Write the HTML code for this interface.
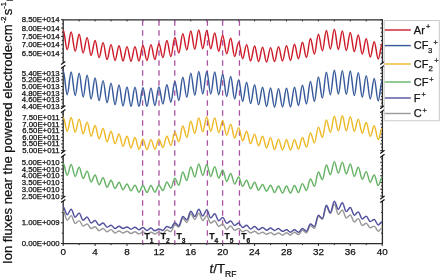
<!DOCTYPE html>
<html><head><meta charset="utf-8"><style>
html,body{margin:0;padding:0;background:#fff;width:440px;height:277px;overflow:hidden}
svg{display:block;will-change:transform}
text{font-family:"Liberation Sans",sans-serif;fill:#111;stroke:#111;stroke-width:0.25px}
.ax{stroke:#2b2b2b;stroke-width:1.3}
.tk{stroke:#2b2b2b;stroke-width:1}
.br{stroke:#111;stroke-width:1.2}
.yl{font-size:7.8px;text-anchor:end}
.xl{font-size:9.9px;text-anchor:middle}
.tl{font-size:8.6px;font-weight:bold}
.lg{font-size:11px}
.xt{font-size:13.2px}
.yt{font-size:13.1px}
.cv{fill:none;stroke-width:1.45;stroke-linejoin:round}
.dash{stroke:#a8539f;stroke-width:1.3;stroke-dasharray:5.4 4.6}
</style></head><body>
<svg width="440" height="277" viewBox="0 0 440 277">
<line x1="63.2" y1="19.8" x2="63.2" y2="63.0" class="ax"/>
<line x1="382.4" y1="19.8" x2="382.4" y2="63.0" class="ax"/>
<line x1="61.0" y1="19.7" x2="63.2" y2="19.7" class="tk"/>
<line x1="380.2" y1="19.7" x2="382.4" y2="19.7" class="tk"/>
<text x="59.6" y="22.20" class="yl">8.50E+014</text>
<line x1="61.0" y1="28.05" x2="63.2" y2="28.05" class="tk"/>
<line x1="380.2" y1="28.05" x2="382.4" y2="28.05" class="tk"/>
<text x="59.6" y="30.55" class="yl">8.00E+014</text>
<line x1="61.0" y1="36.4" x2="63.2" y2="36.4" class="tk"/>
<line x1="380.2" y1="36.4" x2="382.4" y2="36.4" class="tk"/>
<text x="59.6" y="38.90" class="yl">7.50E+014</text>
<line x1="61.0" y1="44.75" x2="63.2" y2="44.75" class="tk"/>
<line x1="380.2" y1="44.75" x2="382.4" y2="44.75" class="tk"/>
<text x="59.6" y="47.25" class="yl">7.00E+014</text>
<line x1="61.0" y1="53.1" x2="63.2" y2="53.1" class="tk"/>
<line x1="380.2" y1="53.1" x2="382.4" y2="53.1" class="tk"/>
<text x="59.6" y="55.60" class="yl">6.50E+014</text>
<line x1="61.800000000000004" y1="23.88" x2="63.2" y2="23.88" class="tk"/>
<line x1="381.0" y1="23.88" x2="382.4" y2="23.88" class="tk"/>
<line x1="61.800000000000004" y1="32.23" x2="63.2" y2="32.23" class="tk"/>
<line x1="381.0" y1="32.23" x2="382.4" y2="32.23" class="tk"/>
<line x1="61.800000000000004" y1="40.58" x2="63.2" y2="40.58" class="tk"/>
<line x1="381.0" y1="40.58" x2="382.4" y2="40.58" class="tk"/>
<line x1="61.800000000000004" y1="48.93" x2="63.2" y2="48.93" class="tk"/>
<line x1="381.0" y1="48.93" x2="382.4" y2="48.93" class="tk"/>
<line x1="61.800000000000004" y1="57.28" x2="63.2" y2="57.28" class="tk"/>
<line x1="381.0" y1="57.28" x2="382.4" y2="57.28" class="tk"/>
<line x1="63.2" y1="66.9" x2="63.2" y2="107.2" class="ax"/>
<line x1="382.4" y1="66.9" x2="382.4" y2="107.2" class="ax"/>
<line x1="61.0" y1="73.3" x2="63.2" y2="73.3" class="tk"/>
<line x1="380.2" y1="73.3" x2="382.4" y2="73.3" class="tk"/>
<text x="59.6" y="75.80" class="yl">5.40E+013</text>
<line x1="61.0" y1="79.9" x2="63.2" y2="79.9" class="tk"/>
<line x1="380.2" y1="79.9" x2="382.4" y2="79.9" class="tk"/>
<text x="59.6" y="82.40" class="yl">5.20E+013</text>
<line x1="61.0" y1="86.5" x2="63.2" y2="86.5" class="tk"/>
<line x1="380.2" y1="86.5" x2="382.4" y2="86.5" class="tk"/>
<text x="59.6" y="89.00" class="yl">5.00E+013</text>
<line x1="61.0" y1="93.1" x2="63.2" y2="93.1" class="tk"/>
<line x1="380.2" y1="93.1" x2="382.4" y2="93.1" class="tk"/>
<text x="59.6" y="95.60" class="yl">4.80E+013</text>
<line x1="61.0" y1="99.7" x2="63.2" y2="99.7" class="tk"/>
<line x1="380.2" y1="99.7" x2="382.4" y2="99.7" class="tk"/>
<text x="59.6" y="102.20" class="yl">4.60E+013</text>
<line x1="61.0" y1="106.3" x2="63.2" y2="106.3" class="tk"/>
<line x1="380.2" y1="106.3" x2="382.4" y2="106.3" class="tk"/>
<text x="59.6" y="108.80" class="yl">4.40E+013</text>
<line x1="61.800000000000004" y1="70.00" x2="63.2" y2="70.00" class="tk"/>
<line x1="381.0" y1="70.00" x2="382.4" y2="70.00" class="tk"/>
<line x1="61.800000000000004" y1="76.60" x2="63.2" y2="76.60" class="tk"/>
<line x1="381.0" y1="76.60" x2="382.4" y2="76.60" class="tk"/>
<line x1="61.800000000000004" y1="83.20" x2="63.2" y2="83.20" class="tk"/>
<line x1="381.0" y1="83.20" x2="382.4" y2="83.20" class="tk"/>
<line x1="61.800000000000004" y1="89.80" x2="63.2" y2="89.80" class="tk"/>
<line x1="381.0" y1="89.80" x2="382.4" y2="89.80" class="tk"/>
<line x1="61.800000000000004" y1="96.40" x2="63.2" y2="96.40" class="tk"/>
<line x1="381.0" y1="96.40" x2="382.4" y2="96.40" class="tk"/>
<line x1="61.800000000000004" y1="103.00" x2="63.2" y2="103.00" class="tk"/>
<line x1="381.0" y1="103.00" x2="382.4" y2="103.00" class="tk"/>
<line x1="63.2" y1="111.0" x2="63.2" y2="151.9" class="ax"/>
<line x1="382.4" y1="111.0" x2="382.4" y2="151.9" class="ax"/>
<line x1="61.0" y1="117.4" x2="63.2" y2="117.4" class="tk"/>
<line x1="380.2" y1="117.4" x2="382.4" y2="117.4" class="tk"/>
<text x="59.6" y="119.90" class="yl">7.50E+011</text>
<line x1="61.0" y1="124.04" x2="63.2" y2="124.04" class="tk"/>
<line x1="380.2" y1="124.04" x2="382.4" y2="124.04" class="tk"/>
<text x="59.6" y="126.54" class="yl">7.00E+011</text>
<line x1="61.0" y1="130.68" x2="63.2" y2="130.68" class="tk"/>
<line x1="380.2" y1="130.68" x2="382.4" y2="130.68" class="tk"/>
<text x="59.6" y="133.18" class="yl">6.50E+011</text>
<line x1="61.0" y1="137.32" x2="63.2" y2="137.32" class="tk"/>
<line x1="380.2" y1="137.32" x2="382.4" y2="137.32" class="tk"/>
<text x="59.6" y="139.82" class="yl">6.00E+011</text>
<line x1="61.0" y1="143.96" x2="63.2" y2="143.96" class="tk"/>
<line x1="380.2" y1="143.96" x2="382.4" y2="143.96" class="tk"/>
<text x="59.6" y="146.46" class="yl">5.50E+011</text>
<line x1="61.0" y1="150.6" x2="63.2" y2="150.6" class="tk"/>
<line x1="380.2" y1="150.6" x2="382.4" y2="150.6" class="tk"/>
<text x="59.6" y="153.10" class="yl">5.00E+011</text>
<line x1="61.800000000000004" y1="114.08" x2="63.2" y2="114.08" class="tk"/>
<line x1="381.0" y1="114.08" x2="382.4" y2="114.08" class="tk"/>
<line x1="61.800000000000004" y1="120.72" x2="63.2" y2="120.72" class="tk"/>
<line x1="381.0" y1="120.72" x2="382.4" y2="120.72" class="tk"/>
<line x1="61.800000000000004" y1="127.36" x2="63.2" y2="127.36" class="tk"/>
<line x1="381.0" y1="127.36" x2="382.4" y2="127.36" class="tk"/>
<line x1="61.800000000000004" y1="134.00" x2="63.2" y2="134.00" class="tk"/>
<line x1="381.0" y1="134.00" x2="382.4" y2="134.00" class="tk"/>
<line x1="61.800000000000004" y1="140.64" x2="63.2" y2="140.64" class="tk"/>
<line x1="381.0" y1="140.64" x2="382.4" y2="140.64" class="tk"/>
<line x1="61.800000000000004" y1="147.28" x2="63.2" y2="147.28" class="tk"/>
<line x1="381.0" y1="147.28" x2="382.4" y2="147.28" class="tk"/>
<line x1="63.2" y1="155.8" x2="63.2" y2="197.6" class="ax"/>
<line x1="382.4" y1="155.8" x2="382.4" y2="197.6" class="ax"/>
<line x1="61.0" y1="162.3" x2="63.2" y2="162.3" class="tk"/>
<line x1="380.2" y1="162.3" x2="382.4" y2="162.3" class="tk"/>
<text x="59.6" y="164.80" class="yl">5.00E+010</text>
<line x1="61.0" y1="169.04" x2="63.2" y2="169.04" class="tk"/>
<line x1="380.2" y1="169.04" x2="382.4" y2="169.04" class="tk"/>
<text x="59.6" y="171.54" class="yl">4.50E+010</text>
<line x1="61.0" y1="175.78" x2="63.2" y2="175.78" class="tk"/>
<line x1="380.2" y1="175.78" x2="382.4" y2="175.78" class="tk"/>
<text x="59.6" y="178.28" class="yl">4.00E+010</text>
<line x1="61.0" y1="182.52" x2="63.2" y2="182.52" class="tk"/>
<line x1="380.2" y1="182.52" x2="382.4" y2="182.52" class="tk"/>
<text x="59.6" y="185.02" class="yl">3.50E+010</text>
<line x1="61.0" y1="189.26" x2="63.2" y2="189.26" class="tk"/>
<line x1="380.2" y1="189.26" x2="382.4" y2="189.26" class="tk"/>
<text x="59.6" y="191.76" class="yl">3.00E+010</text>
<line x1="61.0" y1="196.0" x2="63.2" y2="196.0" class="tk"/>
<line x1="380.2" y1="196.0" x2="382.4" y2="196.0" class="tk"/>
<text x="59.6" y="198.50" class="yl">2.50E+010</text>
<line x1="61.800000000000004" y1="158.93" x2="63.2" y2="158.93" class="tk"/>
<line x1="381.0" y1="158.93" x2="382.4" y2="158.93" class="tk"/>
<line x1="61.800000000000004" y1="165.67" x2="63.2" y2="165.67" class="tk"/>
<line x1="381.0" y1="165.67" x2="382.4" y2="165.67" class="tk"/>
<line x1="61.800000000000004" y1="172.41" x2="63.2" y2="172.41" class="tk"/>
<line x1="381.0" y1="172.41" x2="382.4" y2="172.41" class="tk"/>
<line x1="61.800000000000004" y1="179.15" x2="63.2" y2="179.15" class="tk"/>
<line x1="381.0" y1="179.15" x2="382.4" y2="179.15" class="tk"/>
<line x1="61.800000000000004" y1="185.89" x2="63.2" y2="185.89" class="tk"/>
<line x1="381.0" y1="185.89" x2="382.4" y2="185.89" class="tk"/>
<line x1="61.800000000000004" y1="192.63" x2="63.2" y2="192.63" class="tk"/>
<line x1="381.0" y1="192.63" x2="382.4" y2="192.63" class="tk"/>
<line x1="63.2" y1="201.0" x2="63.2" y2="243.6" class="ax"/>
<line x1="382.4" y1="201.0" x2="382.4" y2="243.6" class="ax"/>
<line x1="61.0" y1="222.8" x2="63.2" y2="222.8" class="tk"/>
<line x1="380.2" y1="222.8" x2="382.4" y2="222.8" class="tk"/>
<text x="59.6" y="225.30" class="yl">1.00E+009</text>
<line x1="61.0" y1="243.5" x2="63.2" y2="243.5" class="tk"/>
<line x1="380.2" y1="243.5" x2="382.4" y2="243.5" class="tk"/>
<text x="59.6" y="246.00" class="yl">0.00E+000</text>
<line x1="61.800000000000004" y1="212.45" x2="63.2" y2="212.45" class="tk"/>
<line x1="381.0" y1="212.45" x2="382.4" y2="212.45" class="tk"/>
<line x1="61.800000000000004" y1="233.15" x2="63.2" y2="233.15" class="tk"/>
<line x1="381.0" y1="233.15" x2="382.4" y2="233.15" class="tk"/>
<line x1="61.050000000000004" y1="64.6" x2="65.35000000000001" y2="61.4" class="br"/>
<line x1="61.050000000000004" y1="68.5" x2="65.35000000000001" y2="65.30000000000001" class="br"/>
<line x1="380.25" y1="64.6" x2="384.54999999999995" y2="61.4" class="br"/>
<line x1="380.25" y1="68.5" x2="384.54999999999995" y2="65.30000000000001" class="br"/>
<line x1="61.050000000000004" y1="108.75" x2="65.35000000000001" y2="105.55000000000001" class="br"/>
<line x1="61.050000000000004" y1="112.64999999999999" x2="65.35000000000001" y2="109.45" class="br"/>
<line x1="380.25" y1="108.75" x2="384.54999999999995" y2="105.55000000000001" class="br"/>
<line x1="380.25" y1="112.64999999999999" x2="384.54999999999995" y2="109.45" class="br"/>
<line x1="61.050000000000004" y1="153.45" x2="65.35000000000001" y2="150.25" class="br"/>
<line x1="61.050000000000004" y1="157.4" x2="65.35000000000001" y2="154.20000000000002" class="br"/>
<line x1="380.25" y1="153.45" x2="384.54999999999995" y2="150.25" class="br"/>
<line x1="380.25" y1="157.4" x2="384.54999999999995" y2="154.20000000000002" class="br"/>
<line x1="61.050000000000004" y1="199.15" x2="65.35000000000001" y2="195.95000000000002" class="br"/>
<line x1="61.050000000000004" y1="202.6" x2="65.35000000000001" y2="199.4" class="br"/>
<line x1="380.25" y1="199.15" x2="384.54999999999995" y2="195.95000000000002" class="br"/>
<line x1="380.25" y1="202.6" x2="384.54999999999995" y2="199.4" class="br"/>
<line x1="62.6" y1="19.8" x2="383.0" y2="19.8" class="ax"/>
<line x1="62.6" y1="243.6" x2="383.0" y2="243.6" class="ax"/>
<line x1="63.20" y1="243.6" x2="63.20" y2="246.0" class="tk"/>
<text x="63.20" y="255.3" class="xl">0</text>
<line x1="79.15" y1="19.8" x2="79.15" y2="21.400000000000002" class="tk"/>
<line x1="79.15" y1="243.6" x2="79.15" y2="245.1" class="tk"/>
<line x1="95.10" y1="19.8" x2="95.10" y2="21.400000000000002" class="tk"/>
<line x1="95.10" y1="243.6" x2="95.10" y2="246.0" class="tk"/>
<text x="95.10" y="255.3" class="xl">4</text>
<line x1="111.05" y1="19.8" x2="111.05" y2="21.400000000000002" class="tk"/>
<line x1="111.05" y1="243.6" x2="111.05" y2="245.1" class="tk"/>
<line x1="127.00" y1="19.8" x2="127.00" y2="21.400000000000002" class="tk"/>
<line x1="127.00" y1="243.6" x2="127.00" y2="246.0" class="tk"/>
<text x="127.00" y="255.3" class="xl">8</text>
<line x1="142.95" y1="19.8" x2="142.95" y2="21.400000000000002" class="tk"/>
<line x1="142.95" y1="243.6" x2="142.95" y2="245.1" class="tk"/>
<line x1="158.90" y1="19.8" x2="158.90" y2="21.400000000000002" class="tk"/>
<line x1="158.90" y1="243.6" x2="158.90" y2="246.0" class="tk"/>
<text x="158.90" y="255.3" class="xl">12</text>
<line x1="174.85" y1="19.8" x2="174.85" y2="21.400000000000002" class="tk"/>
<line x1="174.85" y1="243.6" x2="174.85" y2="245.1" class="tk"/>
<line x1="190.80" y1="19.8" x2="190.80" y2="21.400000000000002" class="tk"/>
<line x1="190.80" y1="243.6" x2="190.80" y2="246.0" class="tk"/>
<text x="190.80" y="255.3" class="xl">16</text>
<line x1="206.75" y1="19.8" x2="206.75" y2="21.400000000000002" class="tk"/>
<line x1="206.75" y1="243.6" x2="206.75" y2="245.1" class="tk"/>
<line x1="222.70" y1="19.8" x2="222.70" y2="21.400000000000002" class="tk"/>
<line x1="222.70" y1="243.6" x2="222.70" y2="246.0" class="tk"/>
<text x="222.70" y="255.3" class="xl">20</text>
<line x1="238.65" y1="19.8" x2="238.65" y2="21.400000000000002" class="tk"/>
<line x1="238.65" y1="243.6" x2="238.65" y2="245.1" class="tk"/>
<line x1="254.60" y1="19.8" x2="254.60" y2="21.400000000000002" class="tk"/>
<line x1="254.60" y1="243.6" x2="254.60" y2="246.0" class="tk"/>
<text x="254.60" y="255.3" class="xl">24</text>
<line x1="270.55" y1="19.8" x2="270.55" y2="21.400000000000002" class="tk"/>
<line x1="270.55" y1="243.6" x2="270.55" y2="245.1" class="tk"/>
<line x1="286.50" y1="19.8" x2="286.50" y2="21.400000000000002" class="tk"/>
<line x1="286.50" y1="243.6" x2="286.50" y2="246.0" class="tk"/>
<text x="286.50" y="255.3" class="xl">28</text>
<line x1="302.45" y1="19.8" x2="302.45" y2="21.400000000000002" class="tk"/>
<line x1="302.45" y1="243.6" x2="302.45" y2="245.1" class="tk"/>
<line x1="318.40" y1="19.8" x2="318.40" y2="21.400000000000002" class="tk"/>
<line x1="318.40" y1="243.6" x2="318.40" y2="246.0" class="tk"/>
<text x="318.40" y="255.3" class="xl">32</text>
<line x1="334.35" y1="19.8" x2="334.35" y2="21.400000000000002" class="tk"/>
<line x1="334.35" y1="243.6" x2="334.35" y2="245.1" class="tk"/>
<line x1="350.30" y1="19.8" x2="350.30" y2="21.400000000000002" class="tk"/>
<line x1="350.30" y1="243.6" x2="350.30" y2="246.0" class="tk"/>
<text x="350.30" y="255.3" class="xl">36</text>
<line x1="366.25" y1="19.8" x2="366.25" y2="21.400000000000002" class="tk"/>
<line x1="366.25" y1="243.6" x2="366.25" y2="245.1" class="tk"/>
<line x1="382.20" y1="243.6" x2="382.20" y2="246.0" class="tk"/>
<text x="382.20" y="255.3" class="xl">40</text>
<line x1="142.60" y1="20.3" x2="142.60" y2="243.6" class="dash"/>
<line x1="159.00" y1="20.3" x2="159.00" y2="243.6" class="dash"/>
<line x1="174.75" y1="20.3" x2="174.75" y2="243.6" class="dash"/>
<line x1="207.40" y1="20.3" x2="207.40" y2="243.6" class="dash"/>
<line x1="222.60" y1="20.3" x2="222.60" y2="243.6" class="dash"/>
<line x1="239.45" y1="20.3" x2="239.45" y2="243.6" class="dash"/>
<path d="M63.20,211.00C64.65,211.00 65.74,220.20 67.19,220.20C68.64,220.20 69.72,215.60 71.17,215.60C72.63,215.60 73.71,223.50 75.16,223.50C76.61,223.50 77.70,220.60 79.15,220.60C80.60,220.60 81.69,226.00 83.14,226.00C84.59,226.00 85.67,223.90 87.12,223.90C88.58,223.90 89.66,228.50 91.11,228.50C92.56,228.50 93.65,226.80 95.10,226.80C96.55,226.80 97.64,230.70 99.09,230.70C100.54,230.70 101.62,228.40 103.08,228.40C104.53,228.40 105.61,231.80 107.06,231.80C108.51,231.80 109.60,229.60 111.05,229.60C112.50,229.60 113.59,233.00 115.04,233.00C116.49,233.00 117.57,230.90 119.03,230.90C120.48,230.90 121.56,233.00 123.01,233.00C124.46,233.00 125.55,231.20 127.00,231.20C128.45,231.20 129.54,233.50 130.99,233.50C132.44,233.50 133.52,231.70 134.97,231.70C136.43,231.70 137.51,234.00 138.96,234.00C140.41,234.00 141.50,232.00 142.95,232.00C144.40,232.00 145.49,234.10 146.94,234.10C148.39,234.10 149.47,232.20 150.93,232.20C152.38,232.20 153.46,234.10 154.91,234.10C156.36,234.10 157.45,232.00 158.90,232.00C160.35,232.00 161.44,233.60 162.89,233.60C164.34,233.60 165.42,230.00 166.88,230.00C168.33,230.00 169.41,231.60 170.86,231.60C172.31,231.60 173.40,224.40 174.85,224.40C176.30,224.40 177.39,227.00 178.84,227.00C180.29,227.00 181.37,218.30 182.82,218.30C184.28,218.30 185.36,222.50 186.81,222.50C188.26,222.50 189.35,213.70 190.80,213.70C192.25,213.70 193.34,219.50 194.79,219.50C196.24,219.50 197.32,213.20 198.77,213.20C200.23,213.20 201.31,220.50 202.76,220.50C204.21,220.50 205.30,215.80 206.75,215.80C208.20,215.80 209.29,223.00 210.74,223.00C212.19,223.00 213.27,220.80 214.73,220.80C216.18,220.80 217.26,226.40 218.71,226.40C220.16,226.40 221.25,223.90 222.70,223.90C224.15,223.90 225.24,229.50 226.69,229.50C228.14,229.50 229.22,225.90 230.68,225.90C232.13,225.90 233.21,230.20 234.66,230.20C236.11,230.20 237.20,228.40 238.65,228.40C240.10,228.40 241.19,231.80 242.64,231.80C244.09,231.80 245.17,230.10 246.62,230.10C248.08,230.10 249.16,233.00 250.61,233.00C252.06,233.00 253.15,231.20 254.60,231.20C256.05,231.20 257.14,233.80 258.59,233.80C260.04,233.80 261.12,232.20 262.57,232.20C264.03,232.20 265.11,234.30 266.56,234.30C268.01,234.30 269.10,232.60 270.55,232.60C272.00,232.60 273.09,234.70 274.54,234.70C275.99,234.70 277.07,232.90 278.52,232.90C279.98,232.90 281.06,235.20 282.51,235.20C283.96,235.20 285.05,232.70 286.50,232.70C287.95,232.70 289.04,235.00 290.49,235.00C291.94,235.00 293.02,232.20 294.47,232.20C295.93,232.20 297.01,234.50 298.46,234.50C299.91,234.50 301.00,230.20 302.45,230.20C303.90,230.20 304.99,232.80 306.44,232.80C307.89,232.80 308.97,225.60 310.43,225.60C311.88,225.60 312.96,228.30 314.41,228.30C315.86,228.30 316.95,216.50 318.40,216.50C319.85,216.50 320.94,219.20 322.39,219.20C323.84,219.20 324.92,206.60 326.38,206.60C327.83,206.60 328.91,213.40 330.36,213.40C331.81,213.40 332.90,204.10 334.35,204.10C335.80,204.10 336.89,214.30 338.34,214.30C339.79,214.30 340.87,209.90 342.32,209.90C343.78,209.90 344.86,217.90 346.31,217.90C347.76,217.90 348.85,215.00 350.30,215.00C351.75,215.00 352.84,222.00 354.29,222.00C355.74,222.00 356.82,218.60 358.27,218.60C359.73,218.60 360.81,225.40 362.26,225.40C363.71,225.40 364.80,223.30 366.25,223.30C367.70,223.30 368.79,227.80 370.24,227.80C371.69,227.80 372.77,226.10 374.22,226.10C375.68,226.10 376.76,231.20 378.21,231.20C379.66,231.20 380.75,228.00 382.20,228.00" stroke="#999999" class="cv"/>
<path d="M63.20,206.90C64.65,206.90 65.74,214.70 67.19,214.70C68.64,214.70 69.72,209.20 71.17,209.20C72.63,209.20 73.71,217.20 75.16,217.20C76.61,217.20 77.70,213.10 79.15,213.10C80.60,213.10 81.69,220.20 83.14,220.20C84.59,220.20 85.67,216.90 87.12,216.90C88.58,216.90 89.66,223.00 91.11,223.00C92.56,223.00 93.65,220.50 95.10,220.50C96.55,220.50 97.64,225.20 99.09,225.20C100.54,225.20 101.62,223.00 103.08,223.00C104.53,223.00 105.61,227.20 107.06,227.20C108.51,227.20 109.60,225.20 111.05,225.20C112.50,225.20 113.59,228.50 115.04,228.50C116.49,228.50 117.57,226.20 119.03,226.20C120.48,226.20 121.56,228.50 123.01,228.50C124.46,228.50 125.55,226.90 127.00,226.90C128.45,226.90 129.54,229.20 130.99,229.20C132.44,229.20 133.52,227.20 134.97,227.20C136.43,227.20 137.51,229.70 138.96,229.70C140.41,229.70 141.50,227.50 142.95,227.50C144.40,227.50 145.49,230.50 146.94,230.50C148.39,230.50 149.47,228.00 150.93,228.00C152.38,228.00 153.46,230.80 154.91,230.80C156.36,230.80 157.45,228.90 158.90,228.90C160.35,228.90 161.44,230.50 162.89,230.50C164.34,230.50 165.42,226.40 166.88,226.40C168.33,226.40 169.41,228.00 170.86,228.00C172.31,228.00 173.40,222.70 174.85,222.70C176.30,222.70 177.39,225.70 178.84,225.70C180.29,225.70 181.37,216.40 182.82,216.40C184.28,216.40 185.36,220.00 186.81,220.00C188.26,220.00 189.35,211.30 190.80,211.30C192.25,211.30 193.34,216.50 194.79,216.50C196.24,216.50 197.32,209.30 198.77,209.30C200.23,209.30 201.31,216.00 202.76,216.00C204.21,216.00 205.30,209.80 206.75,209.80C208.20,209.80 209.29,218.00 210.74,218.00C212.19,218.00 213.27,213.80 214.73,213.80C216.18,213.80 217.26,220.80 218.71,220.80C220.16,220.80 221.25,217.40 222.70,217.40C224.15,217.40 225.24,223.20 226.69,223.20C228.14,223.20 229.22,221.00 230.68,221.00C232.13,221.00 233.21,225.50 234.66,225.50C236.11,225.50 237.20,223.00 238.65,223.00C240.10,223.00 241.19,227.50 242.64,227.50C244.09,227.50 245.17,225.20 246.62,225.20C248.08,225.20 249.16,228.90 250.61,228.90C252.06,228.90 253.15,226.40 254.60,226.40C256.05,226.40 257.14,229.70 258.59,229.70C260.04,229.70 261.12,227.50 262.57,227.50C264.03,227.50 265.11,230.20 266.56,230.20C268.01,230.20 269.10,228.00 270.55,228.00C272.00,228.00 273.09,230.50 274.54,230.50C275.99,230.50 277.07,228.50 278.52,228.50C279.98,228.50 281.06,231.30 282.51,231.30C283.96,231.30 285.05,229.80 286.50,229.80C287.95,229.80 289.04,232.30 290.49,232.30C291.94,232.30 293.02,229.80 294.47,229.80C295.93,229.80 297.01,232.30 298.46,232.30C299.91,232.30 301.00,228.50 302.45,228.50C303.90,228.50 304.99,231.20 306.44,231.20C307.89,231.20 308.97,224.00 310.43,224.00C311.88,224.00 312.96,226.50 314.41,226.50C315.86,226.50 316.95,215.30 318.40,215.30C319.85,215.30 320.94,218.40 322.39,218.40C323.84,218.40 324.92,205.30 326.38,205.30C327.83,205.30 328.91,212.60 330.36,212.60C331.81,212.60 332.90,201.20 334.35,201.20C335.80,201.20 336.89,209.30 338.34,209.30C339.79,209.30 340.87,202.80 342.32,202.80C343.78,202.80 344.86,211.60 346.31,211.60C347.76,211.60 348.85,207.40 350.30,207.40C351.75,207.40 352.84,215.20 354.29,215.20C355.74,215.20 356.82,211.90 358.27,211.90C359.73,211.90 360.81,219.00 362.26,219.00C363.71,219.00 364.80,216.20 366.25,216.20C367.70,216.20 368.79,221.50 370.24,221.50C371.69,221.50 372.77,219.50 374.22,219.50C375.68,219.50 376.76,224.90 378.21,224.90C379.66,224.90 380.75,221.60 382.20,221.60" stroke="#52529e" class="cv"/>
<path d="M63.20,163.30C64.65,163.30 65.74,175.20 67.19,175.20C68.64,175.20 69.72,164.40 71.17,164.40C72.63,164.40 73.71,176.40 75.16,176.40C76.61,176.40 77.70,167.30 79.15,167.30C80.60,167.30 81.69,178.50 83.14,178.50C84.59,178.50 85.67,171.10 87.12,171.10C88.58,171.10 89.66,181.90 91.11,181.90C92.56,181.90 93.65,174.90 95.10,174.90C96.55,174.90 97.64,184.70 99.09,184.70C100.54,184.70 101.62,177.70 103.08,177.70C104.53,177.70 105.61,187.20 107.06,187.20C108.51,187.20 109.60,180.20 111.05,180.20C112.50,180.20 113.59,188.50 115.04,188.50C116.49,188.50 117.57,182.20 119.03,182.20C120.48,182.20 121.56,189.70 123.01,189.70C124.46,189.70 125.55,183.90 127.00,183.90C128.45,183.90 129.54,190.80 130.99,190.80C132.44,190.80 133.52,185.20 134.97,185.20C136.43,185.20 137.51,192.20 138.96,192.20C140.41,192.20 141.50,185.50 142.95,185.50C144.40,185.50 145.49,192.50 146.94,192.50C148.39,192.50 149.47,185.50 150.93,185.50C152.38,185.50 153.46,192.20 154.91,192.20C156.36,192.20 157.45,185.20 158.90,185.20C160.35,185.20 161.44,190.50 162.89,190.50C164.34,190.50 165.42,181.90 166.88,181.90C168.33,181.90 169.41,188.00 170.86,188.00C172.31,188.00 173.40,178.20 174.85,178.20C176.30,178.20 177.39,185.20 178.84,185.20C180.29,185.20 181.37,171.90 182.82,171.90C184.28,171.90 185.36,180.50 186.81,180.50C188.26,180.50 189.35,166.90 190.80,166.90C192.25,166.90 193.34,176.90 194.79,176.90C196.24,176.90 197.32,163.90 198.77,163.90C200.23,163.90 201.31,175.50 202.76,175.50C204.21,175.50 205.30,164.40 206.75,164.40C208.20,164.40 209.29,176.40 210.74,176.40C212.19,176.40 213.27,166.60 214.73,166.60C216.18,166.60 217.26,178.00 218.71,178.00C220.16,178.00 221.25,169.90 222.70,169.90C224.15,169.90 225.24,181.40 226.69,181.40C228.14,181.40 229.22,173.40 230.68,173.40C232.13,173.40 233.21,183.90 234.66,183.90C236.11,183.90 237.20,176.90 238.65,176.90C240.10,176.90 241.19,186.30 242.64,186.30C244.09,186.30 245.17,180.20 246.62,180.20C248.08,180.20 249.16,188.80 250.61,188.80C252.06,188.80 253.15,182.20 254.60,182.20C256.05,182.20 257.14,190.20 258.59,190.20C260.04,190.20 261.12,184.40 262.57,184.40C264.03,184.40 265.11,191.30 266.56,191.30C268.01,191.30 269.10,185.20 270.55,185.20C272.00,185.20 273.09,192.50 274.54,192.50C275.99,192.50 277.07,186.00 278.52,186.00C279.98,186.00 281.06,193.00 282.51,193.00C283.96,193.00 285.05,186.00 286.50,186.00C287.95,186.00 289.04,193.00 290.49,193.00C291.94,193.00 293.02,185.50 294.47,185.50C295.93,185.50 297.01,192.50 298.46,192.50C299.91,192.50 301.00,183.60 302.45,183.60C303.90,183.60 304.99,190.50 306.44,190.50C307.89,190.50 308.97,178.90 310.43,178.90C311.88,178.90 312.96,186.30 314.41,186.30C315.86,186.30 316.95,171.90 318.40,171.90C319.85,171.90 320.94,179.70 322.39,179.70C323.84,179.70 324.92,164.90 326.38,164.90C327.83,164.90 328.91,174.70 330.36,174.70C331.81,174.70 332.90,161.60 334.35,161.60C335.80,161.60 336.89,173.10 338.34,173.10C339.79,173.10 340.87,162.10 342.32,162.10C343.78,162.10 344.86,173.90 346.31,173.90C347.76,173.90 348.85,163.90 350.30,163.90C351.75,163.90 352.84,176.40 354.29,176.40C355.74,176.40 356.82,167.30 358.27,167.30C359.73,167.30 360.81,179.20 362.26,179.20C363.71,179.20 364.80,171.60 366.25,171.60C367.70,171.60 368.79,182.20 370.24,182.20C371.69,182.20 372.77,174.90 374.22,174.90C375.68,174.90 376.76,185.50 378.21,185.50C379.66,185.50 380.75,177.30 382.20,177.30" stroke="#66b366" class="cv"/>
<path d="M63.20,117.10C64.65,117.10 65.74,131.30 67.19,131.30C68.64,131.30 69.72,117.50 71.17,117.50C72.63,117.50 73.71,132.10 75.16,132.10C76.61,132.10 77.70,119.10 79.15,119.10C80.60,119.10 81.69,133.80 83.14,133.80C84.59,133.80 85.67,122.10 87.12,122.10C88.58,122.10 89.66,136.30 91.11,136.30C92.56,136.30 93.65,125.50 95.10,125.50C96.55,125.50 97.64,138.80 99.09,138.80C100.54,138.80 101.62,128.40 103.08,128.40C104.53,128.40 105.61,141.70 107.06,141.70C108.51,141.70 109.60,131.30 111.05,131.30C112.50,131.30 113.59,143.70 115.04,143.70C116.49,143.70 117.57,134.00 119.03,134.00C120.48,134.00 121.56,146.20 123.01,146.20C124.46,146.20 125.55,136.30 127.00,136.30C128.45,136.30 129.54,147.90 130.99,147.90C132.44,147.90 133.52,137.40 134.97,137.40C136.43,137.40 137.51,149.10 138.96,149.10C140.41,149.10 141.50,139.10 142.95,139.10C144.40,139.10 145.49,149.60 146.94,149.60C148.39,149.60 149.47,139.60 150.93,139.60C152.38,139.60 153.46,149.10 154.91,149.10C156.36,149.10 157.45,139.10 158.90,139.10C160.35,139.10 161.44,147.40 162.89,147.40C164.34,147.40 165.42,136.30 166.88,136.30C168.33,136.30 169.41,145.40 170.86,145.40C172.31,145.40 173.40,132.30 174.85,132.30C176.30,132.30 177.39,141.70 178.84,141.70C180.29,141.70 181.37,126.00 182.82,126.00C184.28,126.00 185.36,137.40 186.81,137.40C188.26,137.40 189.35,121.20 190.80,121.20C192.25,121.20 193.34,133.40 194.79,133.40C196.24,133.40 197.32,117.90 198.77,117.90C200.23,117.90 201.31,131.80 202.76,131.80C204.21,131.80 205.30,116.90 206.75,116.90C208.20,116.90 209.29,131.30 210.74,131.30C212.19,131.30 213.27,117.90 214.73,117.90C216.18,117.90 217.26,132.60 218.71,132.60C220.16,132.60 221.25,120.80 222.70,120.80C224.15,120.80 225.24,135.10 226.69,135.10C228.14,135.10 229.22,124.10 230.68,124.10C232.13,124.10 233.21,137.90 234.66,137.90C236.11,137.90 237.20,127.60 238.65,127.60C240.10,127.60 241.19,140.70 242.64,140.70C244.09,140.70 245.17,131.30 246.62,131.30C248.08,131.30 249.16,143.70 250.61,143.70C252.06,143.70 253.15,134.10 254.60,134.10C256.05,134.10 257.14,145.70 258.59,145.70C260.04,145.70 261.12,136.30 262.57,136.30C264.03,136.30 265.11,147.90 266.56,147.90C268.01,147.90 269.10,137.60 270.55,137.60C272.00,137.60 273.09,149.60 274.54,149.60C275.99,149.60 277.07,139.10 278.52,139.10C279.98,139.10 281.06,150.10 282.51,150.10C283.96,150.10 285.05,139.80 286.50,139.80C287.95,139.80 289.04,150.10 290.49,150.10C291.94,150.10 293.02,139.60 294.47,139.60C295.93,139.60 297.01,149.10 298.46,149.10C299.91,149.10 301.00,137.40 302.45,137.40C303.90,137.40 304.99,147.10 306.44,147.10C307.89,147.10 308.97,132.90 310.43,132.90C311.88,132.90 312.96,142.90 314.41,142.90C315.86,142.90 316.95,127.10 318.40,127.10C319.85,127.10 320.94,137.40 322.39,137.40C323.84,137.40 324.92,120.00 326.38,120.00C327.83,120.00 328.91,132.40 330.36,132.40C331.81,132.40 332.90,116.30 334.35,116.30C335.80,116.30 336.89,130.80 338.34,130.80C339.79,130.80 340.87,115.80 342.32,115.80C343.78,115.80 344.86,130.80 346.31,130.80C347.76,130.80 348.85,116.60 350.30,116.60C351.75,116.60 352.84,131.30 354.29,131.30C355.74,131.30 356.82,119.10 358.27,119.10C359.73,119.10 360.81,133.30 362.26,133.30C363.71,133.30 364.80,122.50 366.25,122.50C367.70,122.50 368.79,136.30 370.24,136.30C371.69,136.30 372.77,125.80 374.22,125.80C375.68,125.80 376.76,139.60 378.21,139.60C379.66,139.60 380.75,128.50 382.20,128.50" stroke="#eeb925" class="cv"/>
<path d="M63.20,70.60C64.65,70.60 65.74,94.70 67.19,94.70C68.64,94.70 69.72,72.00 71.17,72.00C72.63,72.00 73.71,95.50 75.16,95.50C76.61,95.50 77.70,73.10 79.15,73.10C80.60,73.10 81.69,96.90 83.14,96.90C84.59,96.90 85.67,75.30 87.12,75.30C88.58,75.30 89.66,98.90 91.11,98.90C92.56,98.90 93.65,78.10 95.10,78.10C96.55,78.10 97.64,100.50 99.09,100.50C100.54,100.50 101.62,80.60 103.08,80.60C104.53,80.60 105.61,102.70 107.06,102.70C108.51,102.70 109.60,83.10 111.05,83.10C112.50,83.10 113.59,104.70 115.04,104.70C116.49,104.70 117.57,85.00 119.03,85.00C120.48,85.00 121.56,106.00 123.01,106.00C124.46,106.00 125.55,86.90 127.00,86.90C128.45,86.90 129.54,106.30 130.99,106.30C132.44,106.30 133.52,87.30 134.97,87.30C136.43,87.30 137.51,106.30 138.96,106.30C140.41,106.30 141.50,87.80 142.95,87.80C144.40,87.80 145.49,106.30 146.94,106.30C148.39,106.30 149.47,88.10 150.93,88.10C152.38,88.10 153.46,105.50 154.91,105.50C156.36,105.50 157.45,86.90 158.90,86.90C160.35,86.90 161.44,103.90 162.89,103.90C164.34,103.90 165.42,84.80 166.88,84.80C168.33,84.80 169.41,102.20 170.86,102.20C172.31,102.20 173.40,81.50 174.85,81.50C176.30,81.50 177.39,100.50 178.84,100.50C180.29,100.50 181.37,77.30 182.82,77.30C184.28,77.30 185.36,97.20 186.81,97.20C188.26,97.20 189.35,73.10 190.80,73.10C192.25,73.10 193.34,95.20 194.79,95.20C196.24,95.20 197.32,71.50 198.77,71.50C200.23,71.50 201.31,93.90 202.76,93.90C204.21,93.90 205.30,71.50 206.75,71.50C208.20,71.50 209.29,93.90 210.74,93.90C212.19,93.90 213.27,72.00 214.73,72.00C216.18,72.00 217.26,94.70 218.71,94.70C220.16,94.70 221.25,74.30 222.70,74.30C224.15,74.30 225.24,96.40 226.69,96.40C228.14,96.40 229.22,76.50 230.68,76.50C232.13,76.50 233.21,98.90 234.66,98.90C236.11,98.90 237.20,79.80 238.65,79.80C240.10,79.80 241.19,101.40 242.64,101.40C244.09,101.40 245.17,82.30 246.62,82.30C248.08,82.30 249.16,103.60 250.61,103.60C252.06,103.60 253.15,84.80 254.60,84.80C256.05,84.80 257.14,104.70 258.59,104.70C260.04,104.70 261.12,87.30 262.57,87.30C264.03,87.30 265.11,106.40 266.56,106.40C268.01,106.40 269.10,88.10 270.55,88.10C272.00,88.10 273.09,107.20 274.54,107.20C275.99,107.20 277.07,88.60 278.52,88.60C279.98,88.60 281.06,106.90 282.51,106.90C283.96,106.90 285.05,88.30 286.50,88.30C287.95,88.30 289.04,106.90 290.49,106.90C291.94,106.90 293.02,87.30 294.47,87.30C295.93,87.30 297.01,105.50 298.46,105.50C299.91,105.50 301.00,85.30 302.45,85.30C303.90,85.30 304.99,103.90 306.44,103.90C307.89,103.90 308.97,81.50 310.43,81.50C311.88,81.50 312.96,101.40 314.41,101.40C315.86,101.40 316.95,77.00 318.40,77.00C319.85,77.00 320.94,98.10 322.39,98.10C323.84,98.10 324.92,72.30 326.38,72.30C327.83,72.30 328.91,94.70 330.36,94.70C331.81,94.70 332.90,70.30 334.35,70.30C335.80,70.30 336.89,94.00 338.34,94.00C339.79,94.00 340.87,70.60 342.32,70.60C343.78,70.60 344.86,94.40 346.31,94.40C347.76,94.40 348.85,71.00 350.30,71.00C351.75,71.00 352.84,95.60 354.29,95.60C355.74,95.60 356.82,72.60 358.27,72.60C359.73,72.60 360.81,97.20 362.26,97.20C363.71,97.20 364.80,75.60 366.25,75.60C367.70,75.60 368.79,98.90 370.24,98.90C371.69,98.90 372.77,78.60 374.22,78.60C375.68,78.60 376.76,100.90 378.21,100.90C379.66,100.90 380.75,80.50 382.20,80.50" stroke="#35589a" class="cv"/>
<path d="M63.20,30.00C64.65,30.00 65.74,49.60 67.19,49.60C68.64,49.60 69.72,32.10 71.17,32.10C72.63,32.10 73.71,51.20 75.16,51.20C76.61,51.20 77.70,34.30 79.15,34.30C80.60,34.30 81.69,52.90 83.14,52.90C84.59,52.90 85.67,37.60 87.12,37.60C88.58,37.60 89.66,55.40 91.11,55.40C92.56,55.40 93.65,40.40 95.10,40.40C96.55,40.40 97.64,57.60 99.09,57.60C100.54,57.60 101.62,42.60 103.08,42.60C104.53,42.60 105.61,59.50 107.06,59.50C108.51,59.50 109.60,44.60 111.05,44.60C112.50,44.60 113.59,60.40 115.04,60.40C116.49,60.40 117.57,45.80 119.03,45.80C120.48,45.80 121.56,60.90 123.01,60.90C124.46,60.90 125.55,46.60 127.00,46.60C128.45,46.60 129.54,61.20 130.99,61.20C132.44,61.20 133.52,46.60 134.97,46.60C136.43,46.60 137.51,60.90 138.96,60.90C140.41,60.90 141.50,45.40 142.95,45.40C144.40,45.40 145.49,60.40 146.94,60.40C148.39,60.40 149.47,44.60 150.93,44.60C152.38,44.60 153.46,59.50 154.91,59.50C156.36,59.50 157.45,43.80 158.90,43.80C160.35,43.80 161.44,57.60 162.89,57.60C164.34,57.60 165.42,40.40 166.88,40.40C168.33,40.40 169.41,56.60 170.86,56.60C172.31,56.60 173.40,37.40 174.85,37.40C176.30,37.40 177.39,52.90 178.84,52.90C180.29,52.90 181.37,33.80 182.82,33.80C184.28,33.80 185.36,49.90 186.81,49.90C188.26,49.90 189.35,31.00 190.80,31.00C192.25,31.00 193.34,49.20 194.79,49.20C196.24,49.20 197.32,30.00 198.77,30.00C200.23,30.00 201.31,48.70 202.76,48.70C204.21,48.70 205.30,30.50 206.75,30.50C208.20,30.50 209.29,48.70 210.74,48.70C212.19,48.70 213.27,33.00 214.73,33.00C216.18,33.00 217.26,51.20 218.71,51.20C220.16,51.20 221.25,35.50 222.70,35.50C224.15,35.50 225.24,53.70 226.69,53.70C228.14,53.70 229.22,38.30 230.68,38.30C232.13,38.30 233.21,56.50 234.66,56.50C236.11,56.50 237.20,42.10 238.65,42.10C240.10,42.10 241.19,58.70 242.64,58.70C244.09,58.70 245.17,44.60 246.62,44.60C248.08,44.60 249.16,60.90 250.61,60.90C252.06,60.90 253.15,45.90 254.60,45.90C256.05,45.90 257.14,61.50 258.59,61.50C260.04,61.50 261.12,47.10 262.57,47.10C264.03,47.10 265.11,62.00 266.56,62.00C268.01,62.00 269.10,47.60 270.55,47.60C272.00,47.60 273.09,61.50 274.54,61.50C275.99,61.50 277.07,46.60 278.52,46.60C279.98,46.60 281.06,60.90 282.51,60.90C283.96,60.90 285.05,45.60 286.50,45.60C287.95,45.60 289.04,60.40 290.49,60.40C291.94,60.40 293.02,44.30 294.47,44.30C295.93,44.30 297.01,58.70 298.46,58.70C299.91,58.70 301.00,42.20 302.45,42.20C303.90,42.20 304.99,57.50 306.44,57.50C307.89,57.50 308.97,38.40 310.43,38.40C311.88,38.40 312.96,54.10 314.41,54.10C315.86,54.10 316.95,34.20 318.40,34.20C319.85,34.20 320.94,50.80 322.39,50.80C323.84,50.80 324.92,30.40 326.38,30.40C327.83,30.40 328.91,49.10 330.36,49.10C331.81,49.10 332.90,29.20 334.35,29.20C335.80,29.20 336.89,49.40 338.34,49.40C339.79,49.40 340.87,30.90 342.32,30.90C343.78,30.90 344.86,50.50 346.31,50.50C347.76,50.50 348.85,32.50 350.30,32.50C351.75,32.50 352.84,51.60 354.29,51.60C355.74,51.60 356.82,35.00 358.27,35.00C359.73,35.00 360.81,54.10 362.26,54.10C363.71,54.10 364.80,38.70 366.25,38.70C367.70,38.70 368.79,57.00 370.24,57.00C371.69,57.00 372.77,41.70 374.22,41.70C375.68,41.70 376.76,59.10 378.21,59.10C379.66,59.10 380.75,43.90 382.20,43.90" stroke="#cc1a28" class="cv"/>
<text x="144.40" y="239.4" class="tl">T<tspan dy="3.2" font-size="6.6">1</tspan></text>
<text x="160.80" y="239.4" class="tl">T<tspan dy="3.2" font-size="6.6">2</tspan></text>
<text x="176.55" y="239.4" class="tl">T<tspan dy="3.2" font-size="6.6">3</tspan></text>
<text x="209.20" y="239.4" class="tl">T<tspan dy="3.2" font-size="6.6">4</tspan></text>
<text x="224.40" y="239.4" class="tl">T<tspan dy="3.2" font-size="6.6">5</tspan></text>
<text x="241.25" y="239.4" class="tl">T<tspan dy="3.2" font-size="6.6">6</tspan></text>
<rect x="384.2" y="20.6" width="55.1" height="100.2" fill="#fff" stroke="#c4c4c4" stroke-width="0.9"/>
<line x1="384.8" y1="30.0" x2="410.8" y2="30.0" stroke="#cc1a28" stroke-width="1.4"/>
<text x="413.8" y="33.70" class="lg">Ar</text>
<text x="425.9" y="29.30" class="lg" style="font-size:7.4px">+</text>
<line x1="384.8" y1="45.6" x2="410.8" y2="45.6" stroke="#35589a" stroke-width="1.4"/>
<text x="413.8" y="49.30" class="lg">CF</text>
<text x="428.0" y="52.80" class="lg" style="font-size:7.8px">3</text>
<text x="433.6" y="44.90" class="lg" style="font-size:7.4px">+</text>
<line x1="384.8" y1="64.0" x2="410.8" y2="64.0" stroke="#eeb925" stroke-width="1.4"/>
<text x="413.8" y="67.70" class="lg">CF</text>
<text x="428.4" y="71.20" class="lg" style="font-size:7.8px">2</text>
<text x="434.3" y="63.30" class="lg" style="font-size:7.4px">+</text>
<line x1="384.8" y1="82.0" x2="410.8" y2="82.0" stroke="#66b366" stroke-width="1.4"/>
<text x="413.8" y="85.90" class="lg">CF</text>
<text x="429.2" y="81.50" class="lg" style="font-size:7.4px">+</text>
<line x1="384.8" y1="98.0" x2="410.8" y2="98.0" stroke="#52529e" stroke-width="1.4"/>
<text x="413.8" y="101.50" class="lg">F</text>
<text x="421.4" y="97.10" class="lg" style="font-size:7.4px">+</text>
<line x1="384.8" y1="113.5" x2="410.8" y2="113.5" stroke="#999999" stroke-width="1.4"/>
<text x="413.8" y="117.20" class="lg">C</text>
<text x="422.5" y="112.80" class="lg" style="font-size:7.4px">+</text>
<text x="209.6" y="273.2" class="xt"><tspan font-style="italic">t</tspan>/T<tspan dy="3.3" font-size="8.6">RF</tspan></text>
<g transform="translate(11.8,264.0) rotate(-90)" class="yt"><text x="0" y="0">Ion fluxes near the powered electrode</text><text x="219.3" y="-1.4" font-size="6">(</text><text x="222.1" y="0">cm</text><text x="240.75" y="-6" font-size="7.5">-2</text><text x="248.7" y="0">s</text><text x="255.2" y="-6" font-size="7.5">-1</text></g><rect x="6.6" y="0" width="6.4" height="0.8" fill="#333"/>
</svg>
</body></html>
